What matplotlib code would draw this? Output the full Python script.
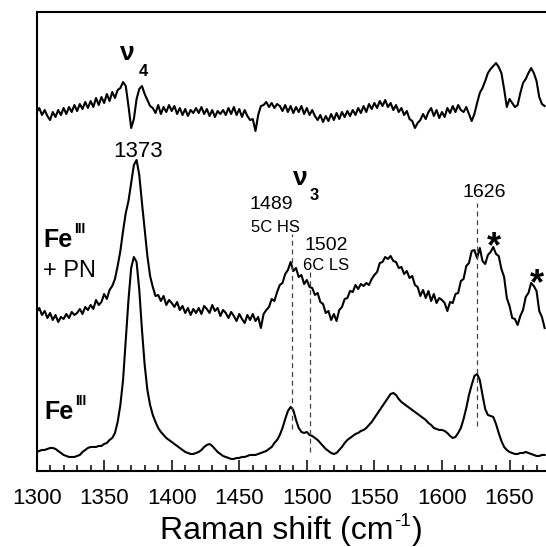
import numpy as np
import matplotlib
matplotlib.use("Agg")
import matplotlib.pyplot as plt
from matplotlib.ticker import MultipleLocator

plt.rcParams['font.family'] = ['Liberation Sans', 'DejaVu Sans']

# Raman shift axis (cm-1), one point every 2 cm-1
shift = np.arange(1300, 1678, 2)

# Fe(III) spectrum (arbitrary units, offset already included)
fe3 = [19, 20, 21, 21, 22, 23, 23, 22, 20, 18,
       16, 15, 14, 14, 14, 15, 16, 19, 21, 23,
       24, 24, 24, 25, 25, 27, 28, 31, 33, 38,
       49, 66, 91, 131, 171, 203, 214, 209, 181, 141,
       106, 81, 66, 56, 49, 43, 39, 36, 33, 31,
       29, 27, 25, 23, 21, 19, 18, 17, 17, 18,
       19, 21, 24, 26, 27, 25, 22, 19, 17, 15,
       14, 13, 12, 12, 13, 13, 14, 14, 15, 16,
       16, 16, 17, 18, 19, 20, 22, 24, 28, 31,
       36, 43, 52, 60, 64, 61, 51, 43, 39, 38,
       39, 36, 35, 33, 31, 28, 25, 22, 20, 18,
       17, 18, 21, 24, 28, 31, 33, 35, 37, 38,
       40, 41, 43, 46, 49, 53, 57, 61, 65, 69,
       73, 77, 78, 76, 72, 69, 67, 65, 63, 61,
       59, 57, 55, 53, 51, 48, 46, 43, 42, 41,
       41, 40, 38, 35, 33, 34, 38, 43, 52, 63,
       76, 86, 95, 97, 91, 76, 62, 56, 55, 54,
       47, 38, 30, 24, 21, 19, 18, 17, 17, 18,
       18, 19, 18, 17, 16, 15, 15, 16, 16]

# Fe(III) + PN spectrum
fe3_pn = [159, 163, 156, 160, 153, 158, 151, 156, 149, 154,
          152, 157, 153, 159, 156, 158, 162, 157, 164, 161,
          166, 162, 171, 166, 169, 177, 172, 181, 185, 192,
          205, 220, 240, 258, 270, 288, 306, 311, 296, 268,
          242, 215, 195, 184, 175, 176, 170, 175, 166, 171,
          168, 164, 169, 161, 165, 158, 163, 156, 162, 158,
          163, 157, 165, 162, 158, 166, 160, 163, 155, 161,
          158, 153, 159, 155, 150, 157, 152, 148, 156, 151,
          157, 150, 154, 143, 157, 161, 164, 172, 170, 179,
          186, 188, 197, 201, 209, 200, 203, 194, 196, 187,
          191, 184, 183, 176, 178, 169, 167, 158, 160, 151,
          157, 150, 161, 164, 172, 173, 180, 179, 186, 182,
          187, 185, 188, 186, 192, 196, 199, 208, 209, 214,
          212, 215, 210, 209, 203, 204, 197, 200, 193, 195,
          186, 184, 175, 181, 173, 180, 170, 177, 168, 173,
          171, 168, 160, 169, 168, 177, 178, 190, 192, 205,
          208, 220, 221, 213, 223, 210, 207, 216, 219, 224,
          217, 215, 202, 194, 173, 165, 153, 152, 146, 155,
          161, 174, 178, 188, 185, 180, 160, 154, 143]

# difference spectrum (top)
diff = [359, 363, 356, 361, 355, 351, 359, 354, 361, 356,
        363, 357, 364, 359, 366, 360, 367, 362, 369, 363,
        370, 364, 373, 366, 374, 368, 377, 370, 379, 373,
        381, 383, 389, 385, 365, 343, 352, 372, 382, 385,
        377, 371, 365, 363, 358, 366, 357, 364, 359, 366,
        360, 365, 357, 363, 356, 362, 355, 361, 358, 363,
        358, 364, 357, 362, 355, 361, 354, 360, 357, 361,
        356, 363, 357, 364, 356, 362, 354, 361, 355, 351,
        352, 340, 356, 365, 366, 369, 364, 368, 363, 367,
        365, 360, 366, 359, 365, 358, 364, 359, 365, 357,
        363, 356, 361, 355, 351, 356, 349, 355, 350, 357,
        351, 358, 352, 359, 354, 360, 355, 361, 356, 363,
        358, 365, 359, 367, 362, 368, 363, 370, 365, 371,
        364, 368, 361, 366, 359, 363, 356, 360, 352, 350,
        343, 348, 351, 357, 352, 359, 363, 355, 361, 353,
        359, 354, 363, 358, 365, 359, 366, 361, 359, 364,
        357, 350, 357, 368, 378, 383, 390, 398, 402, 405,
        408, 404, 398, 382, 364, 372, 368, 364, 366, 378,
        388, 392, 398, 403, 398, 390, 374, 367, 365]

# marker lines: position, lower end, upper end
band_pos = [1489, 1502, 1626]
band_lo = [42, 19, 45]
band_hi = [237, 199, 268]

fig = plt.figure(figsize=(5.46, 5.47), dpi=100)
ax = fig.add_axes([0.067, 0.139, 0.933, 0.839])

for s in (fe3, fe3_pn, diff):
    ax.plot(shift, s, color='black', lw=1.5)

for p, lo, hi in zip(band_pos, band_lo, band_hi):
    ax.plot([p, p], [lo, hi], color='#444444', lw=0.9, ls=(0, (4, 3)))

ax.set_xlim(1300, 1677)
ax.set_ylim(0, 459)
ax.set_yticks([])
ax.xaxis.set_major_locator(MultipleLocator(50))
ax.xaxis.set_minor_locator(MultipleLocator(10))
ax.tick_params(axis='x', which='major', direction='in', length=8, width=1.1,
               labelsize=16, pad=12)
ax.tick_params(axis='x', which='minor', direction='in', length=4.5, width=1.1)
ax.spines['right'].set_visible(False)
for sp in ('left', 'top', 'bottom'):
    ax.spines[sp].set_linewidth(1.5)

# x label built from pieces so the superscript keeps a plain hyphen
W, H = fig.get_size_inches() * fig.dpi
base_y = 1 - 539 / H
t1 = fig.text(160 / W, base_y, 'Raman shift (cm', fontsize=23, va='baseline')
fig.canvas.draw()
bb = t1.get_window_extent()
t2 = fig.text((bb.x1 + 1) / W, base_y + 13 / H, '-1', fontsize=13.5, va='baseline')
fig.canvas.draw()
bb2 = t2.get_window_extent()
fig.text((bb2.x1 + 1) / W, base_y, ')', fontsize=23, va='baseline')

# annotations
ax.text(1367, 418, 'ν', fontsize=19, fontweight='bold', ha='center', va='center')
ax.text(1379, 400, '4', fontsize=12, fontweight='bold', ha='center', va='center')
ax.text(1375, 314, '1373', fontsize=16, ha='center', va='baseline')
ax.text(1495, 293, 'ν', fontsize=19, fontweight='bold', ha='center', va='center')
ax.text(1505.5, 276, '3', fontsize=12, fontweight='bold', ha='center', va='center')
ax.text(1474, 262, '1489', fontsize=14, ha='center', va='baseline')
ax.text(1476.5, 239, '5C HS', fontsize=12, ha='center', va='baseline')
ax.text(1514.5, 221, '1502', fontsize=14, ha='center', va='baseline')
ax.text(1514.5, 201, '6C LS', fontsize=12, ha='center', va='baseline')
ax.text(1631.5, 274, '1626', fontsize=14, ha='center', va='baseline')
ax.text(1638.5, 223, '*', fontsize=26, fontweight='bold', ha='center', va='center')
ax.text(1670, 186, '*', fontsize=26, fontweight='bold', ha='center', va='center')

ax.text(1305, 224, 'Fe', fontsize=18, fontweight='bold', va='baseline')
ax.text(1327.5, 238, 'III', fontsize=10, fontweight='bold', va='baseline')
ax.text(1305, 194, '+ PN', fontsize=17, va='baseline')
ax.text(1306, 52, 'Fe', fontsize=18, fontweight='bold', va='baseline')
ax.text(1328.5, 66, 'III', fontsize=10, fontweight='bold', va='baseline')

fig.savefig('out.png', dpi=100)
